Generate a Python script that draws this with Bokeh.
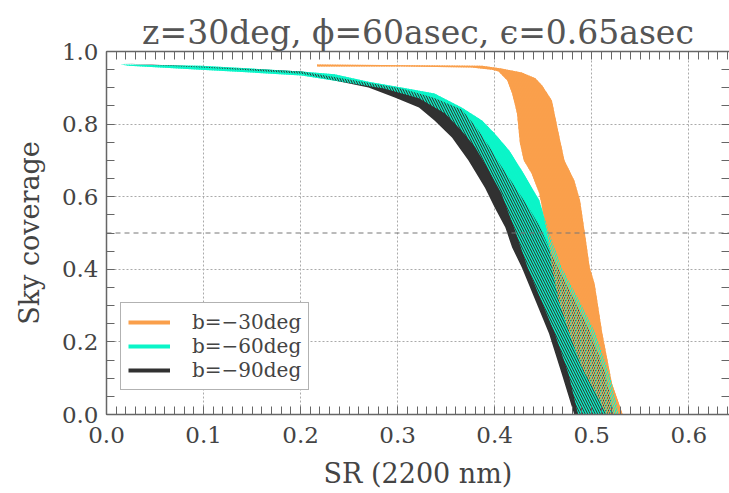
import numpy as np
from bokeh.plotting import figure
from bokeh.models import Range1d, LinearAxis, FixedTicker, Legend, LegendItem, PrintfTickFormatter
from bokeh.embed import file_html
from bokeh.resources import INLINE

TITLE = "z=30deg, \u03d5=60asec, \u03f5=0.65asec"
LABELS = ["b=\u221230deg", "b=\u221260deg", "b=\u221290deg"]
COLORS = ["#fa9f4b", "#0af5c8", "#313131"]

# b=-30deg band (orange)
b30_lo_sr = [0.217, 0.304, 0.376, 0.397, 0.404, 0.413, 0.418, 0.423, 0.426, 0.430, 0.438, 0.446,
             0.452, 0.457, 0.459, 0.466, 0.477, 0.490, 0.508, 0.515]
b30_lo_cov = [0.959, 0.959, 0.956, 0.950, 0.945, 0.920, 0.884, 0.829, 0.747, 0.700, 0.664, 0.609,
              0.526, 0.452, 0.405, 0.314, 0.223, 0.129, 0.039, 0.0]
b30_hi_sr = [0.217, 0.387, 0.407, 0.428, 0.442, 0.449, 0.459, 0.466, 0.472, 0.482, 0.488, 0.493,
             0.498, 0.503, 0.511, 0.521, 0.532]
b30_hi_cov = [0.964, 0.961, 0.953, 0.942, 0.926, 0.906, 0.865, 0.774, 0.700, 0.645, 0.590, 0.499,
              0.405, 0.361, 0.223, 0.085, 0.0]

# b=-60deg band (cyan)
b60_lo_sr = [0.023, 0.097, 0.201, 0.286, 0.322, 0.349, 0.366, 0.380, 0.394, 0.407, 0.421, 0.434,
             0.448, 0.462, 0.476, 0.486]
b60_lo_cov = [0.961, 0.950, 0.934, 0.898, 0.871, 0.829, 0.782, 0.736, 0.672, 0.609, 0.507, 0.405,
              0.314, 0.223, 0.113, 0.0]
b60_hi_sr = [0.0145, 0.097, 0.201, 0.235, 0.270, 0.304, 0.338, 0.366, 0.387, 0.400, 0.415, 0.428,
             0.446, 0.456, 0.469, 0.487, 0.504, 0.518, 0.528]
b60_hi_cov = [0.964, 0.961, 0.945, 0.937, 0.917, 0.901, 0.884, 0.846, 0.810, 0.774, 0.727, 0.672,
              0.590, 0.499, 0.405, 0.314, 0.223, 0.113, 0.0]

# b=-90deg band (black)
b90_lo_sr = [0.0165, 0.097, 0.201, 0.235, 0.270, 0.297, 0.322, 0.338, 0.356, 0.373, 0.390, 0.400,
             0.411, 0.418, 0.428, 0.442, 0.456, 0.469, 0.482]
b90_lo_cov = [0.967, 0.956, 0.939, 0.920, 0.901, 0.873, 0.846, 0.810, 0.763, 0.700, 0.625, 0.570,
              0.515, 0.460, 0.405, 0.314, 0.223, 0.113, 0.0]
b90_hi_sr = [0.0165, 0.097, 0.201, 0.270, 0.304, 0.338, 0.366, 0.380, 0.394, 0.407, 0.421, 0.435,
             0.447, 0.456, 0.465, 0.483, 0.499, 0.514, 0.523]
b90_hi_cov = [0.967, 0.959, 0.945, 0.914, 0.898, 0.872, 0.840, 0.795, 0.740, 0.683, 0.627, 0.570,
              0.515, 0.460, 0.405, 0.314, 0.223, 0.113, 0.0]

x_major = [0.0, 0.1, 0.2, 0.3, 0.4, 0.5, 0.6]
y_major = [0.0, 0.2, 0.4, 0.6, 0.8, 1.0]
ref_level = 0.5

X_END = 0.642
FONT = "DejaVu Serif"
TXT = "#444444"
AX = "#666666"


def band(lo_x, lo_y, hi_x, hi_y):
    return list(lo_x) + list(hi_x)[::-1], list(lo_y) + list(hi_y)[::-1]


p = figure(width=729, height=493, output_backend="svg", toolbar_location=None,
           x_range=Range1d(0, X_END), y_range=Range1d(0, 1),
           min_border_left=106, min_border_right=0, min_border_top=51, min_border_bottom=79,
           outline_line_color=None, background_fill_color="white", border_fill_color="white")

p.title.text = TITLE
p.title.align = "center"
p.title.text_font = FONT
p.title.text_font_size = "33px"
p.title.text_font_style = "normal"
p.title.text_color = "#555555"
p.title.standoff = 0

xs30, ys30 = band(b30_lo_sr, b30_lo_cov, b30_hi_sr, b30_hi_cov)
xs60, ys60 = band(b60_lo_sr, b60_lo_cov, b60_hi_sr, b60_hi_cov)
xs90, ys90 = band(b90_lo_sr, b90_lo_cov, b90_hi_sr, b90_hi_cov)

p.patch(xs30, ys30, fill_color=COLORS[0], line_color=None)
p.patch(xs60, ys60, fill_color=COLORS[1], line_color=None)
p.patch(xs90, ys90, fill_color=COLORS[2], line_color=None)
p.patch(xs60, ys60, fill_alpha=0, line_color=None, hatch_pattern="left_diagonal_line",
        hatch_color=COLORS[1], hatch_scale=5, hatch_weight=1.3)
p.patch(xs30, ys30, fill_alpha=0, line_color=None, hatch_pattern="right_diagonal_line",
        hatch_color=COLORS[0], hatch_scale=5, hatch_weight=1.2)

p.line([0, X_END], [ref_level, ref_level], line_color="#777777", line_width=1, line_dash="5 4")

# grids
p.xgrid.ticker = FixedTicker(ticks=x_major[1:])
p.ygrid.ticker = FixedTicker(ticks=y_major[1:-1])
for g in (p.xgrid, p.ygrid):
    g.grid_line_color = "#aaaaaa"
    g.grid_line_dash = "2 2"
    g.grid_line_width = 1

x_minor = [round(i * 0.01, 2) for i in range(0, 65)]
y_minor = [round(i * 0.05, 2) for i in range(0, 21)]


def style_axis(ax, ticks, minor, labels=True):
    ax.ticker = FixedTicker(ticks=ticks, minor_ticks=minor)
    ax.axis_line_color = AX
    ax.axis_line_width = 1.5
    ax.major_tick_line_color = AX
    ax.minor_tick_line_color = AX
    ax.major_tick_in = 8
    ax.major_tick_out = 0
    ax.minor_tick_in = 8
    ax.minor_tick_out = 0
    if labels:
        ax.formatter = PrintfTickFormatter(format="%.1f")
        ax.major_label_text_font = FONT
        ax.major_label_text_font_size = "23px"
        ax.major_label_text_color = TXT
        ax.axis_label_text_font = FONT
        ax.axis_label_text_font_size = "27px"
        ax.axis_label_text_font_style = "normal"
        ax.axis_label_text_color = TXT


style_axis(p.xaxis[0], x_major, x_minor)
style_axis(p.yaxis[0], y_major, y_minor)
p.xaxis[0].axis_label = "SR (2200 nm)"
p.yaxis[0].axis_label = "Sky coverage"
p.xaxis[0].major_label_standoff = 12
p.yaxis[0].major_label_standoff = 8
p.xaxis[0].axis_label_standoff = 12
p.yaxis[0].axis_label_standoff = 14

# top and right axes: minor ticks only (no labels)
top = LinearAxis()
style_axis(top, [], x_minor, labels=False)
p.add_layout(top, "above")
right = LinearAxis()
style_axis(right, [], y_minor, labels=False)
right.axis_line_alpha = 0
p.add_layout(right, "right")

proxies = [p.line([np.nan], [np.nan], line_color=c, line_width=4) for c in COLORS]
legend = Legend(items=[LegendItem(label=l, renderers=[r]) for l, r in zip(LABELS, proxies)],
                location=(14, 24), border_line_color=AX, border_line_width=1,
                label_text_font=FONT, label_text_font_size="20px", label_text_color=TXT,
                glyph_width=42, glyph_height=20, label_height=20, spacing=0, padding=7,
                label_standoff=22, margin=0, background_fill_alpha=1)
p.add_layout(legend)

open("out.html", "w").write(file_html(p, INLINE))
